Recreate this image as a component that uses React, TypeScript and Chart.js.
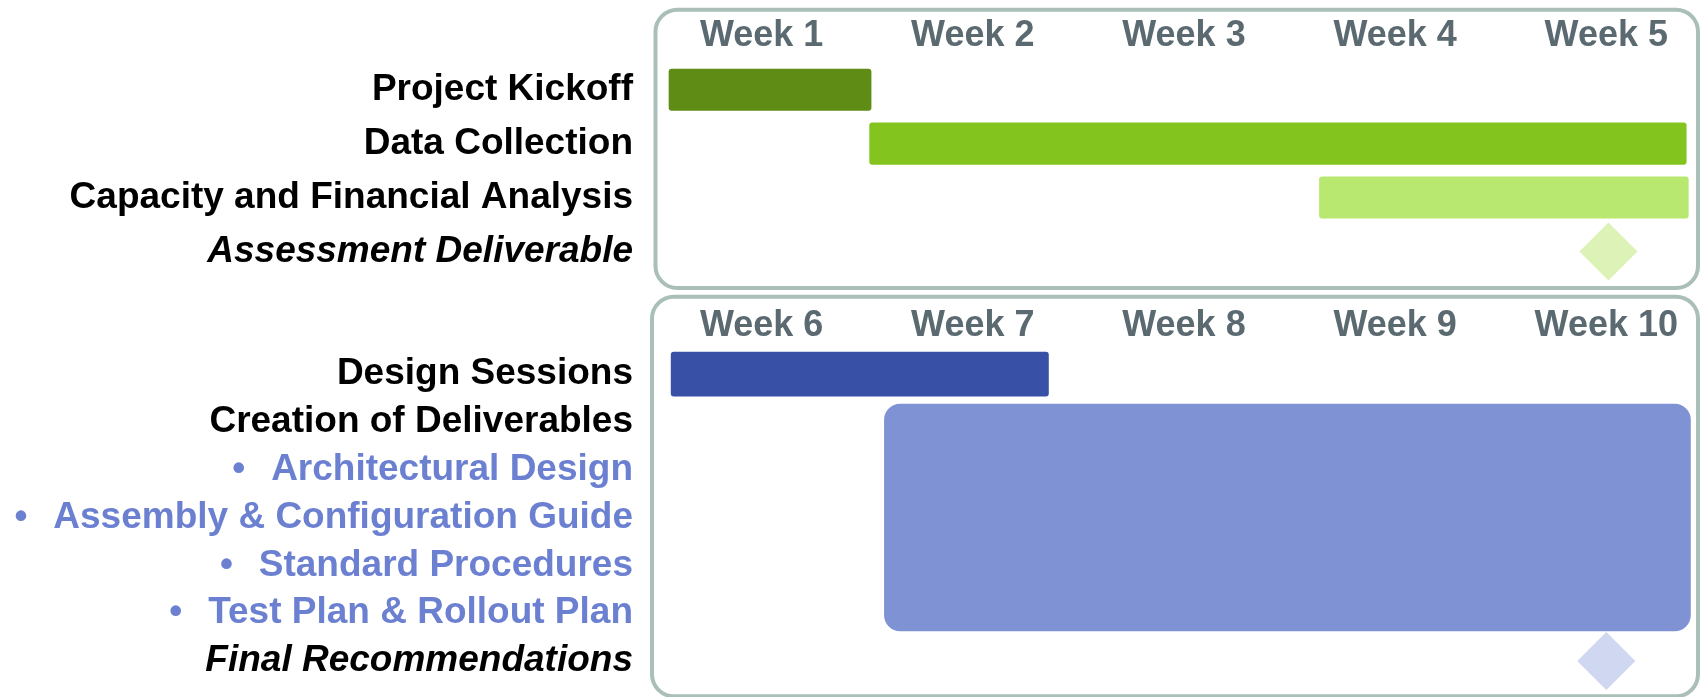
import React, { useEffect, useRef } from 'react';
import { Chart, registerables } from 'chart.js';

Chart.register(...registerables);

// ---------- data ----------
const weekLabelsTop = ['Week 1', 'Week 2', 'Week 3', 'Week 4', 'Week 5'];
const weekLabelsBottom = ['Week 6', 'Week 7', 'Week 8', 'Week 9', 'Week 10'];
// label positions (in weeks from the panel start) and visible span of each panel
const weekTickValues = [0.5, 1.5, 2.5, 3.5, 4.5];
const panelWeeks = 4.92;

const phase1Rows = ['Project Kickoff', 'Data Collection', 'Capacity and Financial Analysis', 'Assessment Deliverable'];
const phase1Bars: ([number, number] | null)[] = [[0.06, 1.02], [1.01, 4.88], [3.14, 4.89], null];
const phase1Milestone = [{ x: 4.51, y: 'Assessment Deliverable' }];

const phase2Rows = [
  'Design Sessions',
  'Creation of Deliverables',
  '\u2022\u2002\u2009Architectural Design',
  '\u2022\u2002\u2009Assembly & Configuration Guide',
  '\u2022\u2002\u2009Standard Procedures',
  '\u2022\u2002\u2009Test Plan & Rollout Plan',
  'Final Recommendations',
];
const phase2Sessions: ([number, number] | null)[] = [[0.07, 1.86], null, null, null, null, null, null];
// one block covering "Creation of Deliverables" and its four sub-items (centred on the middle item)
const phase2Deliverables: ([number, number] | null)[] = [null, null, null, [1.08, 4.9], null, null, null];
const phase2Milestone = [{ x: 4.5, y: 'Final Recommendations' }];

// ---------- styles ----------
const FONT = "'Liberation Sans', Arial, Helvetica, sans-serif";
const phase1Colors = ['#5e8c15', '#84c41f', '#b8e870', '#b8e870'];
const phase1Italic = [3];
const phase2Italic = [6];
const phase2LabelColors = ['#000000', '#000000', '#6b80d0', '#6b80d0', '#6b80d0', '#6b80d0', '#000000'];

const framePlugin = {
  id: 'panelFrame',
  beforeDraw(chart: any, _args: any, opts: any) {
    const { ctx, chartArea: a } = chart;
    const x0 = a.left + opts.left;
    const x1 = a.right + opts.right;
    const y0 = a.top + opts.top;
    const y1 = a.bottom + opts.bottom;
    const r = opts.radius;
    ctx.save();
    ctx.beginPath();
    ctx.moveTo(x0 + r, y0);
    ctx.lineTo(x1 - r, y0);
    ctx.arcTo(x1, y0, x1, y0 + r, r);
    ctx.lineTo(x1, y1 - r);
    ctx.arcTo(x1, y1, x1 - r, y1, r);
    ctx.lineTo(x0 + r, y1);
    ctx.arcTo(x0, y1, x0, y1 - r, r);
    ctx.lineTo(x0, y0 + r);
    ctx.arcTo(x0, y0, x0 + r, y0, r);
    ctx.closePath();
    ctx.lineWidth = opts.width;
    ctx.strokeStyle = opts.color;
    ctx.stroke();
    ctx.restore();
  },
};

function xScale(labels: string[], padding: number) {
  return {
    type: 'linear',
    position: 'top',
    min: 0,
    max: panelWeeks,
    grid: { display: false, drawTicks: false },
    border: { display: false },
    afterBuildTicks: (s: any) => {
      s.ticks = weekTickValues.map((v) => ({ value: v }));
    },
    afterFit: (s: any) => {
      s.paddingLeft = 0;
      s.paddingRight = 0;
    },
    ticks: {
      callback: (_v: any, i: number) => labels[i],
      padding,
      color: '#5a6a70',
      font: { family: FONT, size: 36, weight: 'bold' },
      maxRotation: 0,
      minRotation: 0,
      autoSkip: false,
    },
  };
}

function yScale(labels: string[], italic: number[], colors: string[] | null) {
  return {
    type: 'category',
    labels,
    offset: true,
    grid: { display: false, drawTicks: false },
    border: { display: false },
    afterFit: (s: any) => {
      s.width = 656;
      s.paddingTop = 0;
      s.paddingBottom = 0;
    },
    ticks: {
      padding: 23,
      autoSkip: false,
      color: (c: any) => (colors ? colors[c.index] : '#000000'),
      font: (c: any) => ({
        family: FONT,
        size: 37,
        weight: 'bold',
        style: italic.includes(c.index) ? 'italic' : 'normal',
      }),
    },
  };
}

function topConfig(): any {
  return {
    type: 'bar',
    data: {
      labels: phase1Rows,
      datasets: [
        {
          type: 'bar',
          data: phase1Bars,
          backgroundColor: phase1Colors,
          borderRadius: 3,
          borderSkipped: false,
          barPercentage: 0.78,
          categoryPercentage: 1,
          grouped: false,
        },
        {
          type: 'scatter',
          data: phase1Milestone,
          pointStyle: 'rectRot',
          pointRadius: 29,
          backgroundColor: '#dcf2b6',
          borderWidth: 0,
        },
      ],
    },
    options: {
      indexAxis: 'y',
      responsive: false,
      animation: false,
      events: [],
      layout: { autoPadding: false, padding: { top: 9.9, right: 7, bottom: 13.5, left: 0 } },
      plugins: {
        legend: { display: false },
        tooltip: { enabled: false },
        panelFrame: { left: -0.5, right: 3, top: -53, bottom: 9.5, radius: 22, width: 4, color: '#a9bfb7' },
      },
      scales: {
        x: xScale(weekLabelsTop, 4.8),
        y: yScale(phase1Rows, phase1Italic, null),
      },
    },
    plugins: [framePlugin],
  };
}

function bottomConfig(): any {
  return {
    type: 'bar',
    data: {
      labels: phase2Rows,
      datasets: [
        {
          type: 'bar',
          data: phase2Sessions,
          backgroundColor: '#3850a6',
          borderRadius: 3,
          borderSkipped: false,
          barPercentage: 0.94,
          categoryPercentage: 1,
          grouped: false,
        },
        {
          type: 'bar',
          data: phase2Deliverables,
          backgroundColor: '#7f92d4',
          borderRadius: 16,
          borderSkipped: false,
          barPercentage: 4.76,
          categoryPercentage: 1,
          grouped: false,
        },
        {
          type: 'scatter',
          data: phase2Milestone,
          pointStyle: 'rectRot',
          pointRadius: 29,
          backgroundColor: '#d0d7f0',
          borderWidth: 0,
        },
      ],
    },
    options: {
      indexAxis: 'y',
      responsive: false,
      animation: false,
      events: [],
      layout: { autoPadding: false, padding: { top: 12.2, right: 7, bottom: 12.2, left: 0 } },
      plugins: {
        legend: { display: false },
        tooltip: { enabled: false },
        panelFrame: { left: -4, right: 3, top: -53.5, bottom: 11.5, radius: 22, width: 4, color: '#a9bfb7' },
      },
      scales: {
        x: xScale(weekLabelsBottom, 2.4),
        y: yScale(phase2Rows, phase2Italic, phase2LabelColors),
      },
    },
    plugins: [framePlugin],
  };
}

export default function App() {
  const topRef = useRef<HTMLCanvasElement>(null);
  const botRef = useRef<HTMLCanvasElement>(null);

  useEffect(() => {
    const c1 = new Chart(topRef.current as HTMLCanvasElement, topConfig());
    const c2 = new Chart(botRef.current as HTMLCanvasElement, bottomConfig());
    return () => {
      c1.destroy();
      c2.destroy();
    };
  }, []);

  return (
    <div style={{ position: 'absolute', left: 0, top: 0, width: 1702, height: 697, background: '#ffffff' }}>
      <canvas ref={topRef} width={1702} height={292} style={{ position: 'absolute', left: 0, top: 0 }} />
      <canvas ref={botRef} width={1702} height={407} style={{ position: 'absolute', left: 0, top: 290 }} />
    </div>
  );
}
